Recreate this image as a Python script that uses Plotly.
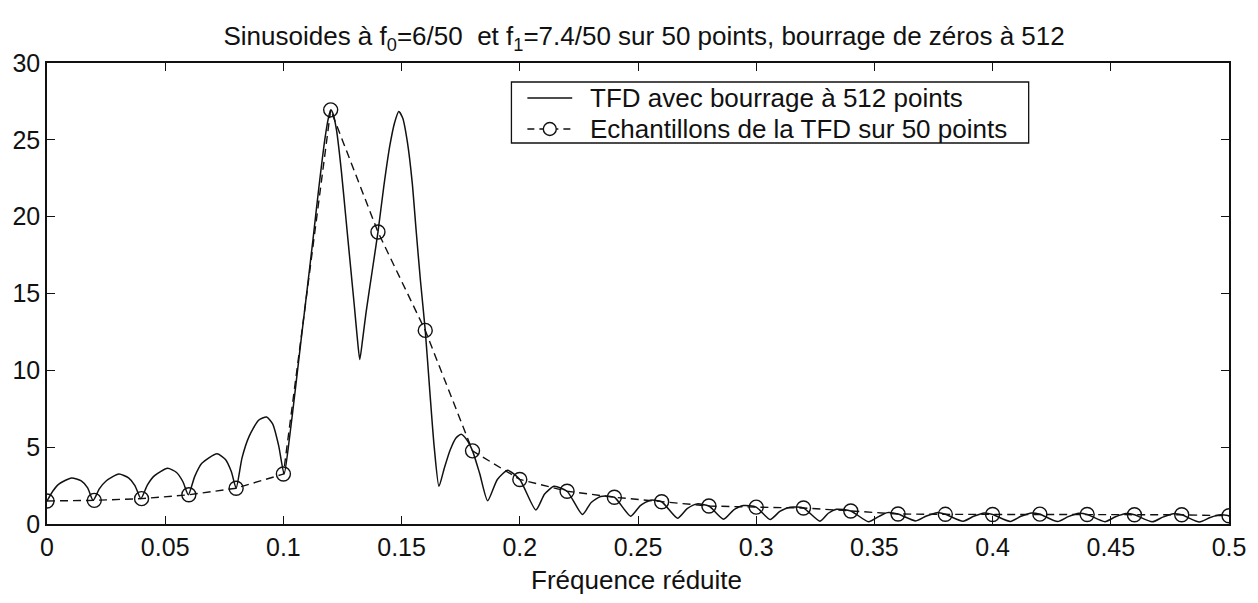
import plotly.graph_objects as go

# --- Data ---
# 50-point DFT samples (circles), at k/50
freq_50 = [0.00, 0.02, 0.04, 0.06, 0.08, 0.10, 0.12, 0.14, 0.16, 0.18, 0.20, 0.22, 0.24,
           0.26, 0.28, 0.30, 0.32, 0.34, 0.36, 0.38, 0.40, 0.42, 0.44, 0.46, 0.48, 0.50]
mag_50 = [1.50, 1.54, 1.65, 1.90, 2.33, 3.25, 26.95, 19.0, 12.6, 4.76, 2.90, 2.13, 1.74,
          1.45, 1.17, 1.10, 1.04, 0.85, 0.65, 0.63, 0.62, 0.64, 0.62, 0.60, 0.60, 0.54]

# zero-padded (512-point) DFT
freq_512 = [0.0000, 0.0025, 0.0050, 0.0104, 0.0145, 0.0172, 0.0195,
            0.0222, 0.0250, 0.0304, 0.0345, 0.0372, 0.0397,
            0.0425, 0.0455, 0.0510, 0.0548, 0.0575, 0.0598,
            0.0625, 0.0655, 0.0719, 0.0755, 0.0780, 0.0800,
            0.0825, 0.0855, 0.0895, 0.0929, 0.0955, 0.0980, 0.1003,
            0.1025, 0.1050, 0.1075, 0.1100, 0.1125, 0.1150, 0.1175, 0.1190, 0.1200,
            0.1210, 0.1225, 0.1245, 0.1265, 0.1285, 0.1300, 0.1312, 0.1323, 0.1335, 0.1350,
            0.1375, 0.1400, 0.1425, 0.1450, 0.1470, 0.1488, 0.1505, 0.1525, 0.1545, 0.1562,
            0.1580, 0.1600, 0.1620, 0.1638, 0.1658, 0.1680, 0.1705, 0.1730, 0.1752, 0.1775,
            0.1800, 0.1830, 0.1864, 0.1905, 0.1949, 0.2000,
            0.2068, 0.2105, 0.2145, 0.2200, 0.2265, 0.2302, 0.2342, 0.2400, 0.2469, 0.2510,
            0.2553, 0.2600, 0.2667, 0.2708, 0.2750, 0.2800, 0.2862, 0.2905, 0.2946, 0.3000,
            0.3059, 0.3100, 0.3143, 0.3200, 0.3270, 0.3305, 0.3340, 0.3400, 0.3475, 0.3520,
            0.3555, 0.3600, 0.3675, 0.3720, 0.3765, 0.3800, 0.3875, 0.3920, 0.3965, 0.4000,
            0.4075, 0.4120, 0.4165, 0.4200, 0.4275, 0.4320, 0.4365, 0.4400, 0.4475, 0.4520,
            0.4565, 0.4600, 0.4675, 0.4720, 0.4765, 0.4800, 0.4875, 0.4920, 0.4965, 0.5000]
mag_512 = [1.50, 2.15, 2.60, 3.00, 2.80, 2.35, 1.54,
           2.30, 2.80, 3.25, 3.00, 2.50, 1.65,
           2.55, 3.15, 3.62, 3.35, 2.75, 1.90,
           3.10, 3.95, 4.57, 4.20, 3.40, 2.33,
           4.30, 5.70, 6.75, 6.96, 6.50, 5.10, 3.25,
           5.50, 8.70, 12.0, 15.2, 18.5, 21.9, 25.0, 26.4, 26.95,
           26.7, 25.6, 23.0, 19.8, 16.6, 14.2, 12.2, 10.7, 12.0, 13.8,
           16.4, 19.0, 22.0, 24.6, 26.1, 26.85, 26.4, 24.8, 22.2, 19.0,
           15.8, 12.6, 8.50, 5.00, 2.45, 3.60, 4.80, 5.60, 5.84, 5.50,
           4.76, 3.30, 1.51, 2.90, 3.49, 2.90,
           0.91, 1.95, 2.45, 2.13, 0.62, 1.40, 1.79, 1.74, 0.51, 1.20,
           1.55, 1.45, 0.38, 1.00, 1.31, 1.17, 0.31, 0.92, 1.20, 1.10,
           0.29, 0.82, 1.09, 1.04, 0.18, 0.70, 0.96, 0.85, 0.15, 0.50,
           0.74, 0.65, 0.20, 0.52, 0.74, 0.63, 0.18, 0.50, 0.72, 0.62,
           0.17, 0.50, 0.72, 0.64, 0.16, 0.48, 0.70, 0.62, 0.15, 0.47,
           0.68, 0.60, 0.14, 0.45, 0.67, 0.60, 0.13, 0.42, 0.60, 0.54]

x_ticks = [0, 0.05, 0.1, 0.15, 0.2, 0.25, 0.3, 0.35, 0.4, 0.45, 0.5]
x_tick_text = ["0", "0.05", "0.1", "0.15", "0.2", "0.25", "0.3", "0.35", "0.4", "0.45", "0.5"]
y_ticks = [0, 5, 10, 15, 20, 25, 30]

title_text = ("Sinusoides à f<sub>0</sub>=6/50  et f<sub>1</sub>=7.4/50 sur 50 points, "
              "bourrage de zéros à 512")
x_label = "Fréquence réduite"
name_512 = "TFD avec bourrage à 512 points"
name_50 = "Echantillons de la TFD sur 50 points"

FONT = "Liberation Sans, Arial, sans-serif"
INK = "#111111"

# plot-area geometry (pixels) used to place the hand-drawn legend box
W, H = 1258, 603
L, R, T, B = 44, 28, 63, 79
PW, PH = W - L - R, H - T - B


def px(xp):
    return (xp - L) / PW


def py(yp):
    return (H - B - yp) / PH


fig = go.Figure()
fig.add_trace(go.Scatter(
    x=freq_512, y=mag_512, mode="lines", name=name_512,
    line=dict(color=INK, width=1.5, shape="spline", smoothing=0.6),
))
fig.add_trace(go.Scatter(
    x=freq_50, y=mag_50, mode="lines+markers", name=name_50,
    line=dict(color=INK, width=1.4, dash="8px,5px"),
    marker=dict(symbol="circle-open", size=14, color=INK, line=dict(width=1.4, color=INK)),
))

axis_common = dict(
    showline=True, linecolor=INK, linewidth=1.5, mirror="ticks",
    ticks="inside", ticklen=8, tickwidth=1.3, tickcolor=INK,
    showgrid=False, zeroline=False,
    tickfont=dict(family=FONT, size=25, color=INK),
)

# legend drawn as a box with line samples and text (matches the compact MATLAB legend)
leg_x0, leg_x1, leg_y0, leg_y1 = 510, 1029, 82, 143
row1_y, row2_y = 98, 129
samp_x0, samp_x1 = 526, 571
text_x = 587

shapes = [
    dict(type="rect", xref="paper", yref="paper",
         x0=px(leg_x0), x1=px(leg_x1), y0=py(leg_y1), y1=py(leg_y0),
         line=dict(color=INK, width=1.3), fillcolor="white", layer="above"),
    dict(type="line", xref="paper", yref="paper",
         x0=px(samp_x0), x1=px(samp_x1), y0=py(row1_y), y1=py(row1_y),
         line=dict(color=INK, width=1.5), layer="above"),
    dict(type="line", xref="paper", yref="paper",
         x0=px(samp_x0), x1=px(samp_x1), y0=py(row2_y), y1=py(row2_y),
         line=dict(color=INK, width=1.4, dash="7px,5px"), layer="above"),
    dict(type="circle", xref="paper", yref="paper",
         x0=px(548.5 - 6.5), x1=px(548.5 + 6.5), y0=py(row2_y + 6.5), y1=py(row2_y - 6.5),
         line=dict(color=INK, width=1.4), fillcolor="white", layer="above"),
]

annotations = [
    dict(text=x_label, x=0.499, y=py(580), xref="paper", yref="paper",
         xanchor="center", yanchor="middle", showarrow=False,
         font=dict(family=FONT, size=26, color=INK)),
    dict(text=name_512, x=px(text_x), y=py(row1_y), xref="paper", yref="paper",
         xanchor="left", yanchor="middle", showarrow=False,
         font=dict(family=FONT, size=26, color=INK)),
    dict(text=name_50, x=px(text_x), y=py(row2_y), xref="paper", yref="paper",
         xanchor="left", yanchor="middle", showarrow=False,
         font=dict(family=FONT, size=26, color=INK)),
]

fig.update_layout(
    width=W, height=H,
    margin=dict(l=L, r=R, t=T, b=B),
    paper_bgcolor="white", plot_bgcolor="white",
    showlegend=False,
    title=dict(text=title_text, x=0.512, xref="container", xanchor="center",
               y=1 - 36 / 603, yref="container", yanchor="middle",
               font=dict(family=FONT, size=26, color=INK)),
    xaxis=dict(range=[0, 0.5], tickvals=x_ticks, ticktext=x_tick_text, **axis_common),
    yaxis=dict(range=[0, 30], tickvals=y_ticks, **axis_common),
    shapes=shapes,
    annotations=annotations,
)

fig.write_html("out.html")
